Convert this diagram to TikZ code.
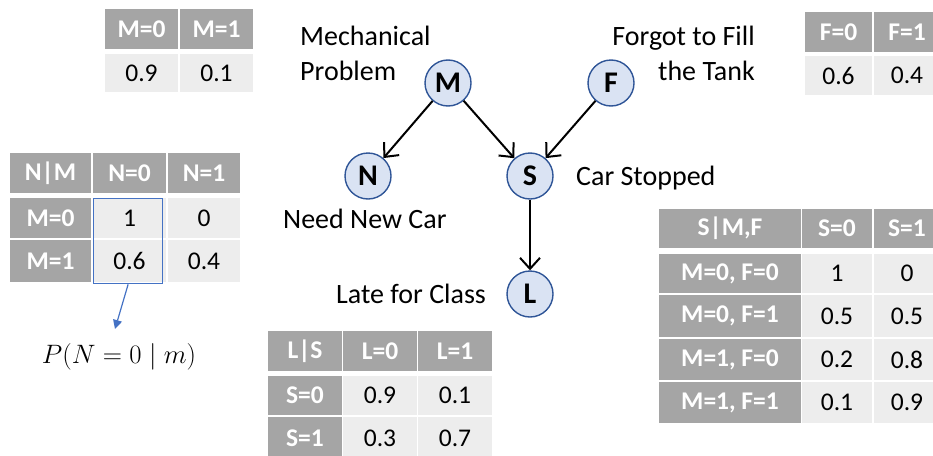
\documentclass[tikz,border=0pt]{standalone}
\usepackage{graphicx}
\usepackage{fontspec}
\setmainfont{Carlito}
\usetikzlibrary{arrows.meta}
\definecolor{hdgray}{HTML}{A5A5A5}
\definecolor{bdgray}{HTML}{EDEDED}
\definecolor{nodefill}{HTML}{DAE3F3}
\definecolor{nodeline}{HTML}{2F5597}
\definecolor{selblue}{HTML}{4472C4}
\newcommand\tcell[7]{\node[#6, anchor=north west, minimum width={#4-#2}, minimum height={#5-#3}] (#1) at (#2,#3) {#7};}
\begin{document}
\begin{tikzpicture}[x=1pt,y=-1pt,
 var/.style={circle, draw=nodeline, fill=nodefill, line width=1.4pt, minimum size=46pt, inner sep=0pt, font=\fontsize{30}{34}\selectfont\bfseries},
 edge/.style={line width=2pt, -{Straight Barb[length=11pt,width=20pt,line width=2pt]}},
 lbl/.style={font=\fontsize{28}{35}\selectfont, inner sep=0pt},
 hd/.style={fill=hdgray, text=white, font=\fontsize{25.5}{28}\selectfont\bfseries, inner sep=0pt, outer sep=0pt},
 bd/.style={fill=bdgray, text=black, font=\fontsize{25.5}{28}\selectfont, inner sep=0pt, outer sep=0pt},
]
\useasboundingbox (0,0) rectangle (933,455);
% graph
\node[var] (M) at (448,83) {M};
\node[var] (F) at (611,83) {F};
\node[var] (N) at (368,176) {N};
\node[var] (S) at (530,176) {S};
\node[var] (L) at (530,294) {L};
\draw[edge] (M) -- (N);
\draw[edge] (M) -- (S);
\draw[edge] (F) -- (S);
\draw[edge] (S) -- (L);
% labels
\node[lbl, align=left, anchor=north west] (lm) at (300,26) {Mechanical\\Problem};
\node[lbl, align=right, anchor=north east] (lf) at (755,26) {Forgot to Fill\\the Tank};
\node[lbl, anchor=base west] (ls) at (576,185) {Car Stopped};
\node[lbl, anchor=base west] (ln) at (283,228) {Need New Car};
\node[lbl, anchor=base west] (ll) at (336,303) {Late for Class};
% table M
\tcell{ma}{105}{9}{178}{49}{hd}{M=0}
\tcell{mb}{180}{9}{253}{49}{hd}{M=1}
\tcell{mc}{105}{54}{178}{92}{bd}{0.9}
\tcell{md}{180}{54}{253}{92}{bd}{0.1}
% table F
\tcell{fa}{805}{12}{872}{52}{hd}{F=0}
\tcell{fb}{874}{12}{940}{52}{hd}{F=1}
\tcell{fc}{805}{56}{872}{95}{bd}{0.6}
\tcell{fd}{874}{56}{940}{95}{bd}{0.4}
% table N|M
\tcell{na}{10}{153}{91}{193}{hd}{N|M}
\tcell{nb}{93}{153}{166}{193}{hd}{N=0}
\tcell{nc}{168}{153}{240}{193}{hd}{N=1}
\tcell{nd}{10}{198}{91}{238}{hd}{M=0}
\tcell{ne}{93}{198}{166}{238}{bd}{1}
\tcell{nf}{168}{198}{240}{238}{bd}{0}
\tcell{ng}{10}{240}{91}{282}{hd}{M=1}
\tcell{nh}{93}{240}{166}{282}{bd}{0.6}
\tcell{ni}{168}{240}{240}{282}{bd}{0.4}
\node[draw=selblue, line width=1.3pt, minimum width=69pt, minimum height=85pt, anchor=north west, inner sep=0pt] (sel) at (93,198) {};
\coordinate (pend) at (115,329);
\draw[selblue, line width=1.2pt, -{Triangle[length=9pt,width=9pt]}] (sel.south) -- (pend);
\node[font=\fontsize{24.88}{30}\selectfont, inner sep=0pt, anchor=base] (pf) at (119,363) {\scalebox{1.07}{$P(N=0\mid m)$}};
% table S|M,F
\tcell{sa}{659}{209}{801}{248}{hd}{S|M,F}
\tcell{sb}{802}{209}{872}{248}{hd}{S=0}
\tcell{sc}{874}{209}{940}{248}{hd}{S=1}
\tcell{sd}{659}{254}{801}{293}{hd}{M=0, F=0}
\tcell{se}{802}{254}{872}{293}{bd}{1}
\tcell{sf}{874}{254}{940}{293}{bd}{0}
\tcell{sg}{659}{295}{801}{337}{hd}{M=0, F=1}
\tcell{sh}{802}{295}{872}{337}{bd}{0.5}
\tcell{si}{874}{295}{940}{337}{bd}{0.5}
\tcell{sj}{659}{339}{801}{380}{hd}{M=1, F=0}
\tcell{sk}{802}{339}{872}{380}{bd}{0.2}
\tcell{sl}{874}{339}{940}{380}{bd}{0.8}
\tcell{sm}{659}{382}{801}{423}{hd}{M=1, F=1}
\tcell{sn}{802}{382}{872}{423}{bd}{0.1}
\tcell{so}{874}{382}{940}{423}{bd}{0.9}
% table L|S
\tcell{la}{268}{331}{342}{371}{hd}{L|S}
\tcell{lb}{343}{331}{417}{371}{hd}{L=0}
\tcell{lc}{418}{331}{492}{371}{hd}{L=1}
\tcell{ld}{268}{376}{342}{415}{hd}{S=0}
\tcell{le}{343}{376}{417}{415}{bd}{0.9}
\tcell{lf}{418}{376}{492}{415}{bd}{0.1}
\tcell{lg}{268}{417}{342}{460}{hd}{S=1}
\tcell{lh}{343}{417}{417}{460}{bd}{0.3}
\tcell{li}{418}{417}{492}{460}{bd}{0.7}
\end{tikzpicture}
\end{document}
